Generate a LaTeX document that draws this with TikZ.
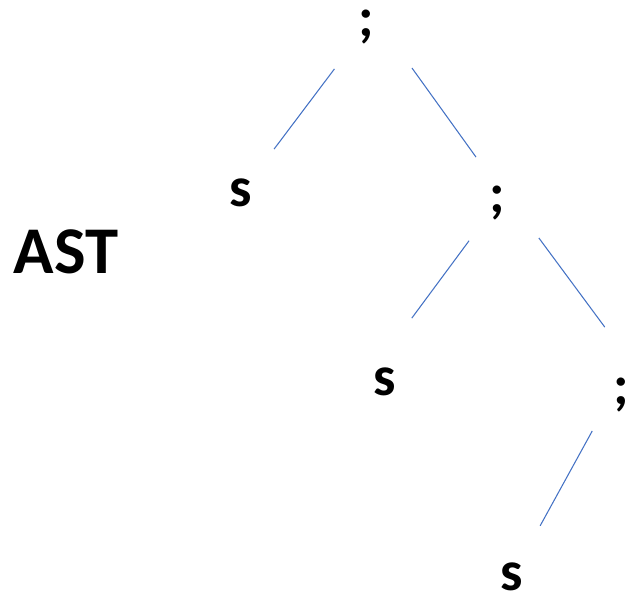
\documentclass[tikz,border=0pt]{standalone}
\usepackage{fontspec}
\setmainfont{Carlito}
\definecolor{edgeblue}{RGB}{68,114,196}
\tikzset{
  sym/.style={font=\fontsize{32}{38}\selectfont\bfseries, inner sep=0pt},
  branch/.style 2 args={draw=edgeblue, line width=0.6pt, shorten <=#1, shorten >=#2},
}

\begin{document}
\begin{tikzpicture}[x=0.02cm, y=-0.02cm]
\useasboundingbox (0,0) rectangle (628,592);

%% tree nodes
\node[sym] (semiA) at (366,27) {;};
\node[sym] (sA) at (241,193) {s};
\node[sym] (semiB) at (497,203) {;};
\node[sym] (sB) at (385,382) {s};
\node[sym] (semiC) at (621,395) {;};
\node[sym] (sC) at (512,577) {s};

%% title
\node[font=\fontsize{38}{44}\selectfont\bfseries, inner sep=0pt] (title) at (66,252) {AST};

%% branches (hand placed, not quite centre to centre)
\draw[branch={1.05cm}{1.1cm}] (semiA.center) -- (sA.center);
\draw[branch={1.01cm}{1.13cm}] ([xshift=0.33cm]semiA.center) -- ([xshift=0.24cm]semiB.center);
\draw[branch={0.94cm}{1.59cm}] (semiB.center) -- ([xshift=-0.41cm]sB.center);
\draw[branch={0.87cm}{1.69cm}] ([xshift=0.32cm]semiB.center) -- ([xshift=0.68cm]semiC.center);
\draw[branch={0.82cm}{1.17cm}] ([xshift=-0.18cm]semiC.center) -- (sC.center);

\end{tikzpicture}
\end{document}
